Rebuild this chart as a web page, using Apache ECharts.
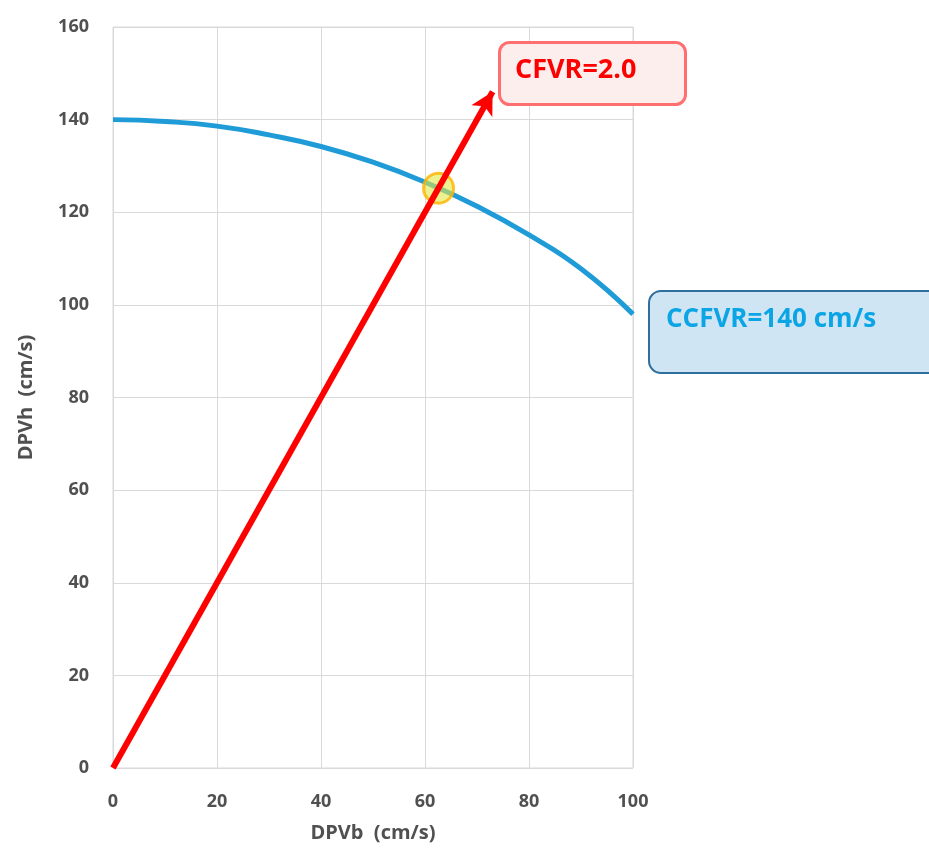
<!DOCTYPE html>
<html>
<head>
<meta charset="utf-8">
<script src="https://cdn.jsdelivr.net/npm/echarts@6/dist/echarts.min.js"></script>
<style>
  html, body { margin: 0; padding: 0; background: #fff; }
  #main { width: 929px; height: 855px; }
</style>
</head>
<body>
<div id="main"></div>
<script>
// blue curve: DPVb -> DPVh
var curveX = [0, 10, 20, 30, 40, 50, 60, 70, 80, 90, 100];
var curveY = [140, 139.6, 138.6, 136.7, 134.2, 130.8, 126.5, 121.3, 115.1, 107.8, 98];
// red arrow from origin to tip
var arrowStart = [0, 0];
var arrowEnd = [73, 146];
// crossing point
var crossPoint = [62.6, 125.2];
var xTicks = [0, 20, 40, 60, 80, 100];
var yTicks = [0, 20, 40, 60, 80, 100, 120, 140, 160];

var dom = document.getElementById('main');
var myChart = echarts.init(dom, null, { renderer: 'canvas' });

var FONT = '"Open Sans", "Noto Sans", sans-serif';
var curveData = curveX.map(function (x, i) { return [x, curveY[i]]; });

var option = {
  animation: false,
  grid: { left: 113, right: 296, top: 27, bottom: 87, show: true, borderColor: '#d9d9d9', borderWidth: 1 },
  xAxis: {
    type: 'value', min: xTicks[0], max: xTicks[xTicks.length - 1], interval: 20,
    name: 'DPVb  (cm/s)', nameLocation: 'middle', nameGap: 55,
    nameTextStyle: { color: '#505050', fontSize: 20, fontWeight: 'bold', fontFamily: FONT },
    axisLine: { show: false }, axisTick: { show: false },
    axisLabel: { color: '#505050', fontSize: 18, fontWeight: 'bold', fontFamily: FONT, margin: 25 },
    splitLine: { lineStyle: { color: '#d9d9d9', width: 1 } }
  },
  yAxis: {
    type: 'value', min: yTicks[0], max: yTicks[yTicks.length - 1], interval: 20,
    name: 'DPVh  (cm/s)', nameLocation: 'middle', nameGap: 77, nameRotate: 90,
    nameTextStyle: { color: '#505050', fontSize: 20, fontWeight: 'bold', fontFamily: FONT },
    axisLine: { show: false }, axisTick: { show: false },
    axisLabel: { color: '#505050', fontSize: 18, fontWeight: 'bold', fontFamily: FONT, margin: 24 },
    splitLine: { lineStyle: { color: '#d9d9d9', width: 1 } }
  },
  series: [
    {
      type: 'line', data: curveData, smooth: true, showSymbol: false,
      lineStyle: { color: '#1f9bd7', width: 5 }, z: 2
    },
    {
      type: 'line', data: [], z: 3,
      markLine: {
        silent: true, symbol: ['none', 'arrow'], symbolSize: [18, 22],
        label: { show: false },
        lineStyle: { color: '#ff0000', width: 6, type: 'solid' },
        data: [[{ coord: arrowStart }, { coord: arrowEnd }]]
      }
    },
    {
      type: 'scatter', data: [crossPoint], symbolSize: 30, z: 4,
      itemStyle: { color: 'rgba(225,232,70,0.75)', borderColor: '#ffb300', borderWidth: 3 }
    }
  ],
  graphic: [
    {
      type: 'rect', left: 498, top: 41, z: 10,
      shape: { width: 186, height: 62, r: 10 },
      style: { fill: '#fdeeee', stroke: '#ff6f6f', lineWidth: 3 }
    },
    {
      type: 'text', left: 515, top: 57, z: 11,
      style: { text: 'CFVR=2.0', fill: '#ff0000', font: 'bold 27px ' + FONT }
    },
    {
      type: 'rect', left: 648, top: 290, z: 10,
      shape: { width: 300, height: 82, r: 12 },
      style: { fill: '#cfe5f4', stroke: '#2f6f9f', lineWidth: 2 }
    },
    {
      type: 'text', left: 666, top: 307, z: 11,
      style: { text: 'CCFVR=140 cm/s', fill: '#0ba5e6', font: 'bold 26px ' + FONT }
    }
  ]
};

myChart.setOption(option);
window.addEventListener('resize', myChart.resize);
</script>
</body>
</html>
